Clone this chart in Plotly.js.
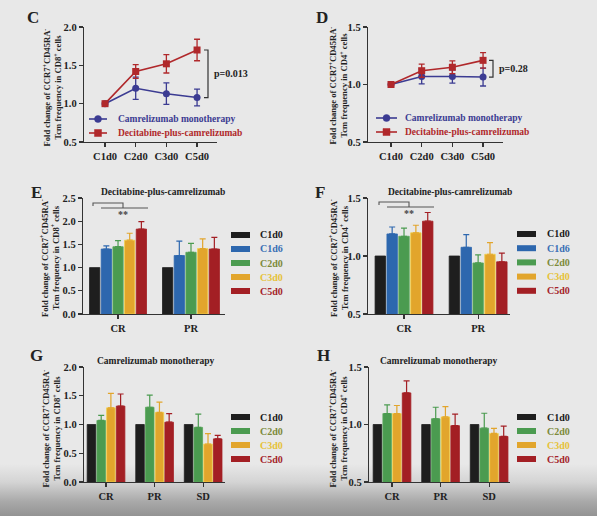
<!DOCTYPE html>
<html><head><meta charset="utf-8">
<script src="https://cdn.plot.ly/plotly-3.0.1.min.js"></script>
<style>
html,body{margin:0;padding:0;}
body{width:597px;height:516px;overflow:hidden;background:linear-gradient(to bottom,#e8e8e8 0px,#e8e8e8 464px,#d4d4d4 482px,#aaaaaa 501px,#939393 516px);}
#chart{width:597px;height:516px;}
</style></head><body><div id="chart"></div>
<script>
// ---------- DATA ----------
const cycles = ['C1d0','C2d0','C3d0','C5d0'];
const seriesNames = ['Camrelizumab monotherapy','Decitabine-plus-camrelizumab'];
// Panel C (CD8+)
const cCam = [1.00,1.20,1.13,1.08];
const cCamErr = [0,0.145,0.14,0.11];
const cDec = [1.00,1.42,1.52,1.70];
const cDecErr = [0,0.09,0.12,0.14];
const cP = 'p=0.013';
// Panel D (CD4+)
const dCam = [1.00,1.07,1.07,1.065];
const dCamErr = [0,0.065,0.058,0.078];
const dDec = [1.00,1.12,1.15,1.21];
const dDecErr = [0,0.057,0.055,0.068];
const dP = 'p=0.28';
// Panels E/F (decitabine-plus-camrelizumab)
const respEF = ['CR','PR'];
const timesEF = ['C1d0','C1d6','C2d0','C3d0','C5d0'];
const eCR = [1.00,1.40,1.45,1.59,1.83];
const eCRerr = [0,0.07,0.13,0.15,0.16];
const ePR = [1.00,1.26,1.33,1.41,1.40];
const ePRerr = [0,0.31,0.19,0.21,0.25];
const fCR = [1.00,1.19,1.17,1.20,1.30];
const fCRerr = [0,0.06,0.07,0.065,0.075];
const fPR = [1.00,1.075,0.94,1.015,0.95];
const fPRerr = [0,0.11,0.07,0.10,0.075];
// Panels G/H (camrelizumab monotherapy)
const respGH = ['CR','PR','SD'];
const timesGH = ['C1d0','C2d0','C3d0','C5d0'];
const gCR = [1.00,1.07,1.29,1.32];
const gCRerr = [0,0.09,0.25,0.21];
const gPR = [1.00,1.30,1.21,1.04];
const gPRerr = [0,0.21,0.18,0.15];
const gSD = [1.00,0.95,0.66,0.75];
const gSDerr = [0,0.23,0.18,0.06];
const hCR = [1.00,1.095,1.095,1.275];
const hCRerr = [0,0.075,0.07,0.105];
const hPR = [1.00,1.05,1.066,0.99];
const hPRerr = [0,0.10,0.09,0.10];
const hSD = [1.00,0.968,0.922,0.896];
const hSDerr = [0,0.13,0.045,0.09];
const titleEF = 'Decitabine-plus-camrelizumab';
const titleGH = 'Camrelizumab monotherapy';
const yTitleCD8 = 'Fold change of CCR7<sup>+</sup>CD45RA<sup>-</sup><br>Tcm frequency in CD8<sup>+</sup> cells';
const yTitleCD4 = 'Fold change of CCR7<sup>+</sup>CD45RA<sup>-</sup><br>Tcm frequency in CD4<sup>+</sup> cells';

// ---------- STYLE ----------
const W = 597, H = 516;
const px = x => x / W;
const py = y => 1 - y / H;
const FONT = 'Liberation Serif, Times New Roman, serif';
const AX = '#333333';
const camColor = '#3b3b92';
const decColor = '#b0282b';
const barColor = {C1d0:'#1e1e1e', C1d6:'#2d67ae', C2d0:'#4b9b50', C3d0:'#e2a52c', C5d0:'#a31f24'};
const barEdge  = {C1d0:'#1e1e1e', C1d6:'#2d67ae', C2d0:'#5aa75c', C3d0:'#f2d24a', C5d0:'#a31f24'};
const legText  = {C1d0:'#1a1a1a', C1d6:'#3a6fb5', C2d0:'#7d8a3a', C3d0:'#e6c23a', C5d0:'#a5242a'};

const traces = [];
const shapes = [];
const annotations = [];

function lineTrace(y, err, color, symbol, xa, ya) {
  return {type:'scatter', mode:'lines+markers', x:cycles, y:y, xaxis:xa, yaxis:ya,
    line:{color:color, width:1.6}, marker:{color:color, symbol:symbol, size:7},
    error_y:{type:'data', array:err, visible:true, color:color, thickness:1.3, width:3},
    showlegend:false, cliponaxis:false};
}
traces.push(lineTrace(cCam, cCamErr, camColor, 'circle', 'x', 'y'));
traces.push(lineTrace(cDec, cDecErr, decColor, 'square', 'x', 'y'));
traces.push(lineTrace(dCam, dCamErr, camColor, 'circle', 'x2', 'y2'));
traces.push(lineTrace(dDec, dDecErr, decColor, 'square', 'x2', 'y2'));

function barTraces(times, groups, vals, errs, xa, ya) {
  times.forEach((t, i) => {
    const y = vals.map(v => v[i]);
    const e = errs.map(v => v[i]);
    const hasErr = e.some(v => v > 0);
    traces.push({type:'bar', name:t, x:groups, y:y, xaxis:xa, yaxis:ya,
      marker:{color:barColor[t], line:{color:barEdge[t], width:0.8}},
      error_y:{type:'data', symmetric:false, array:e, arrayminus:e.map(() => 0),
        visible:hasErr, color:barColor[t], thickness:1.2, width:3},
      showlegend:false});
  });
}
barTraces(timesEF, respEF, [eCR, ePR], [eCRerr, ePRerr], 'x3', 'y3');
barTraces(timesEF, respEF, [fCR, fPR], [fCRerr, fPRerr], 'x4', 'y4');
barTraces(timesGH, respGH, [gCR, gPR, gSD], [gCRerr, gPRerr, gSDerr], 'x5', 'y5');
barTraces(timesGH, respGH, [hCR, hPR, hSD], [hCRerr, hPRerr, hSDerr], 'x6', 'y6');

// ---------- AXES ----------
const tickFont = {family:FONT, size:10.5, color:'#222', weight:700};
function xAx(l, r, range, anchor) {
  return {domain:[px(l), px(r)], range:range, type:'category', anchor:anchor,
    showline:true, linecolor:AX, linewidth:1.2, ticks:'outside', ticklen:4, tickwidth:1.2,
    tickcolor:AX, showgrid:false, zeroline:false, tickfont:tickFont, fixedrange:true};
}
function yAx(top, bottom, range, anchor) {
  return {domain:[py(bottom), py(top)], range:range, anchor:anchor, dtick:0.5, tick0:0,
    tickformat:'.1f', showline:true, linecolor:AX, linewidth:1.2, ticks:'outside', ticklen:4,
    tickwidth:1.2, tickcolor:AX, showgrid:false, zeroline:false, tickfont:tickFont, fixedrange:true};
}

// ---------- ANNOTATION HELPERS ----------
function txt(x, y, text, opts) {
  annotations.push(Object.assign({x:px(x), y:py(y), xref:'paper', yref:'paper', text:text,
    showarrow:false, xanchor:'center', yanchor:'middle',
    font:{family:FONT, size:9.5, color:'#222', weight:700}}, opts || {}));
}
function pathShape(d, color) {
  shapes.push({type:'path', xref:'paper', yref:'paper', path:d, line:{color:color || '#555', width:1.1}});
}
function P(x, y) { return px(x) + ',' + py(y); }

// panel letters
[['C',33,18],['D',322,18],['E',36,192],['F',320,192],['G',36,355],['H',323,355]].forEach(l =>
  txt(l[1], l[2], l[0], {font:{family:FONT, size:17, color:'#222', weight:700}}));

// y titles
const yt = {textangle:-90, font:{family:FONT, size:8.6, color:'#222', weight:700}};
txt(52.5, 88, yTitleCD8, yt);
txt(338.5, 86, yTitleCD4, yt);
txt(50, 258, yTitleCD8, yt);
txt(339, 258, yTitleCD4, yt);
txt(51.5, 429, yTitleCD8, yt);
txt(338.5, 429, yTitleCD4, yt);

// panel titles
txt(163, 192, titleEF, {font:{family:FONT, size:9.5, color:'#222', weight:700}});
txt(450, 192, titleEF, {font:{family:FONT, size:9.5, color:'#222', weight:700}});
txt(155, 361, titleGH, {font:{family:FONT, size:9.5, color:'#222', weight:700}});
txt(438, 361, titleGH, {font:{family:FONT, size:9.5, color:'#222', weight:700}});

// line-chart legends
function lineLegend(x0, x1, y, color, symbol, label, tx) {
  shapes.push({type:'line', xref:'paper', yref:'paper', x0:px(x0), x1:px(x1), y0:py(y), y1:py(y),
    line:{color:color, width:1.6}});
  const cx = (x0 + x1) / 2, r = 3.5;
  shapes.push({type:symbol === 'circle' ? 'circle' : 'rect', xref:'paper', yref:'paper',
    x0:px(cx - r), x1:px(cx + r), y0:py(y + r), y1:py(y - r), fillcolor:color, line:{color:color, width:0.5}});
  txt(tx, y, label, {xanchor:'left', font:{family:FONT, size:9.5, color:color, weight:700}});
}
lineLegend(89, 107, 119, camColor, 'circle', seriesNames[0], 116);
lineLegend(89, 107, 133, decColor, 'square', seriesNames[1], 116);
lineLegend(376, 397, 118, camColor, 'circle', seriesNames[0], 403);
lineLegend(376, 397, 132, decColor, 'square', seriesNames[1], 403);

// p brackets (y in data units)
function pBracket(xl, xr, yTop, yBot, yref, label, tx) {
  shapes.push({type:'path', xref:'paper', yref:yref,
    path:`M ${px(xl)},${yTop} L ${px(xr)},${yTop} L ${px(xr)},${yBot} L ${px(xl)},${yBot}`,
    line:{color:'#333', width:1.2}});
  annotations.push({x:px(tx), y:(yTop + yBot) / 2, xref:'paper', yref:yref, text:label,
    showarrow:false, xanchor:'left', yanchor:'middle', font:{family:FONT, size:10, color:'#222', weight:700}});
}
pBracket(204, 208, cDec[3], cCam[3], 'y', cP, 212);
pBracket(489, 493, dDec[3], dCam[3], 'y2', dP, 497);

// significance brackets E / F
pathShape(`M ${P(93,206)} L ${P(93,203)} L ${P(123,203)} L ${P(123,208)}`, '#555');
pathShape(`M ${P(101,208)} L ${P(148,208)}`, '#555');
txt(123, 214, '**', {font:{family:FONT, size:10, color:'#444', weight:700}});
pathShape(`M ${P(379,205)} L ${P(379,202)} L ${P(409,202)} L ${P(409,207)}`, '#555');
pathShape(`M ${P(387,207)} L ${P(434,207)}`, '#555');
txt(409, 213, '**', {font:{family:FONT, size:10, color:'#444', weight:700}});

// bar legends
function barLegend(times, x0, x1, yStart, step, tx) {
  times.forEach((t, i) => {
    const y = yStart + i * step;
    shapes.push({type:'rect', xref:'paper', yref:'paper', x0:px(x0), x1:px(x1), y0:py(y + 3), y1:py(y - 3),
      fillcolor:barColor[t], line:{width:0}});
    txt(tx, y, t, {xanchor:'left', font:{family:FONT, size:10, color:legText[t], weight:700}});
  });
}
barLegend(timesEF, 231, 250, 235, 14, 258);
barLegend(timesEF, 517, 536, 234, 14.2, 545);
barLegend(timesGH, 231, 250, 417, 14, 258);
barLegend(timesGH, 517, 536, 417, 14, 545);

const layout = {
  width:W, height:H, margin:{l:0, r:0, t:0, b:0},
  paper_bgcolor:'rgba(0,0,0,0)', plot_bgcolor:'rgba(0,0,0,0)',
  showlegend:false, barmode:'group', bargap:0.2, bargroupgap:0.12,
  font:{family:FONT, color:'#222'},
  xaxis: xAx(84, 217, [-0.685, 3.65], 'y'),
  yaxis: yAx(27, 142, [0.5, 2.0], 'x'),
  xaxis2: xAx(368, 503, [-0.75, 3.65], 'y2'),
  yaxis2: yAx(27, 142, [0.5, 1.5], 'x2'),
  xaxis3: xAx(83, 225, [-0.48, 1.466], 'y3'),
  yaxis3: yAx(198, 314, [0, 2.5], 'x3'),
  xaxis4: xAx(368, 510, [-0.486, 1.43], 'y4'),
  yaxis4: yAx(198, 314, [0.5, 1.5], 'x4'),
  xaxis5: xAx(84, 225, [-0.454, 2.45], 'y5'),
  yaxis5: yAx(367, 482, [0, 2.0], 'x5'),
  xaxis6: xAx(369, 510, [-0.474, 2.43], 'y6'),
  yaxis6: yAx(367, 482, [0.5, 1.5], 'x6'),
  shapes:shapes, annotations:annotations
};
Plotly.newPlot('chart', traces, layout, {staticPlot:true, displayModeBar:false});
</script></body></html>
